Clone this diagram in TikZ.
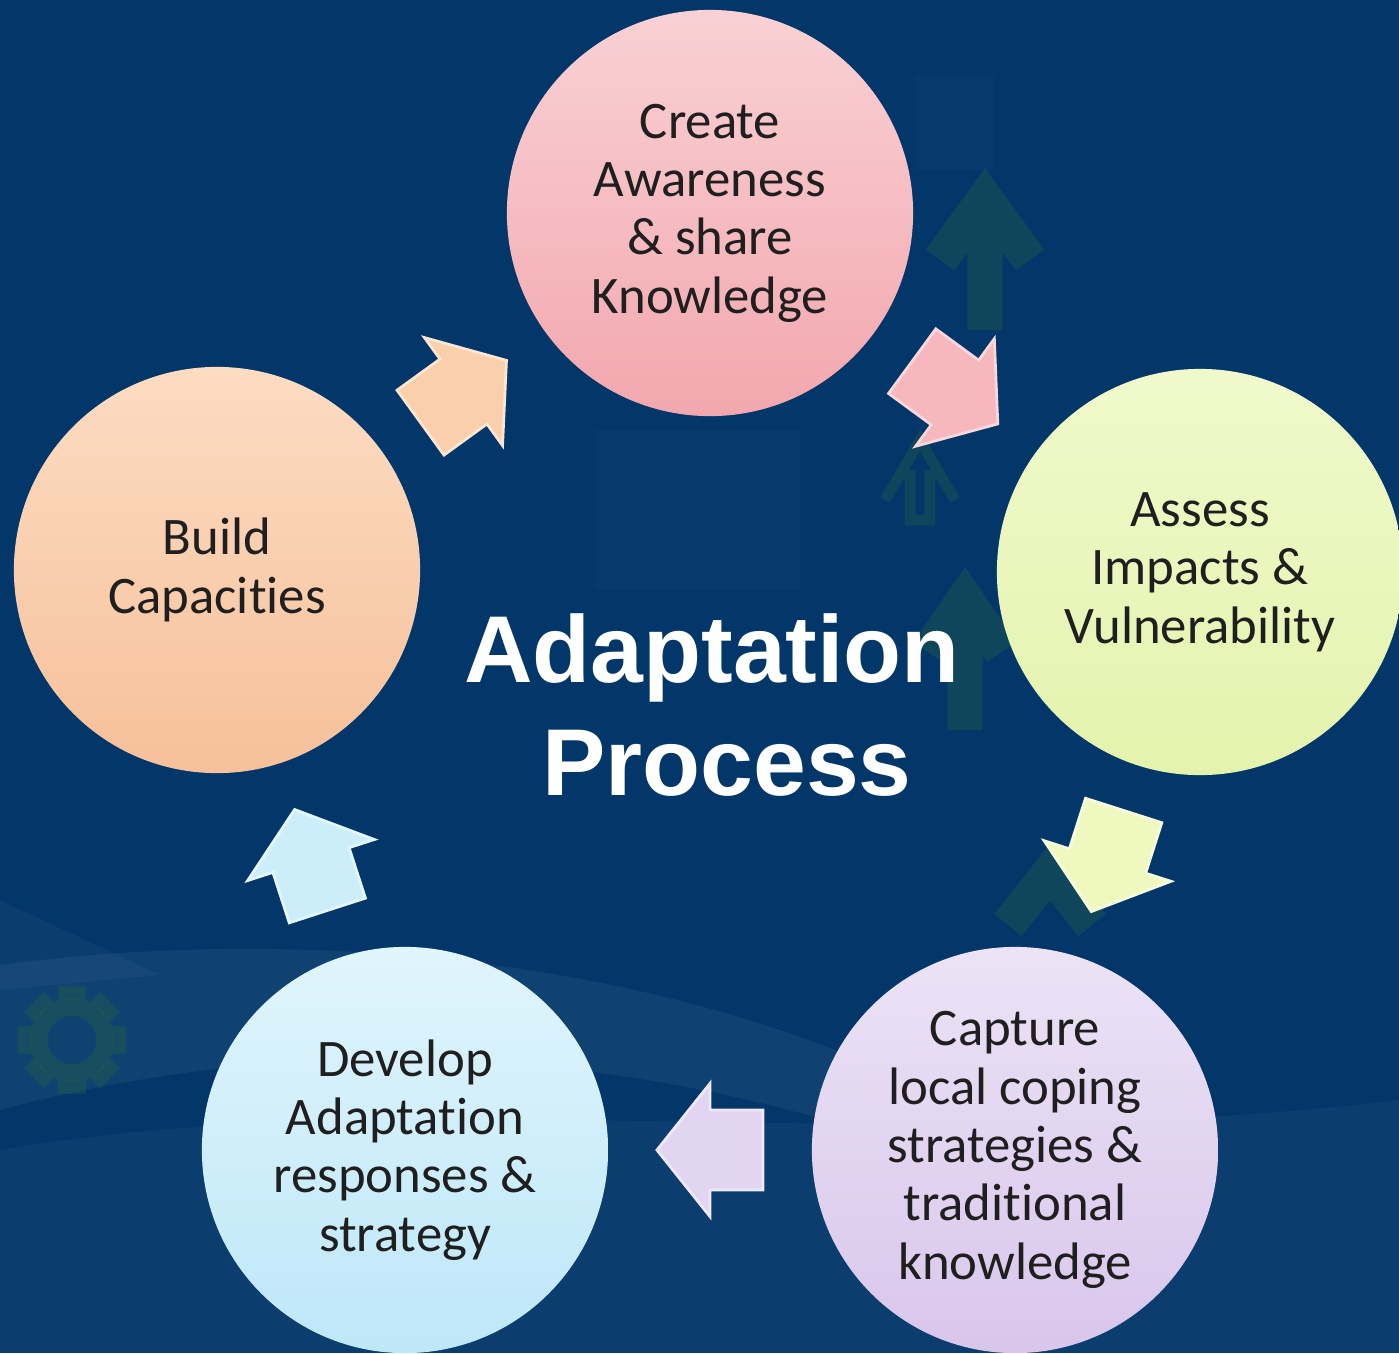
\documentclass[tikz,border=0pt]{standalone}
\usepackage{fontspec}
\setmainfont{Carlito}[Ligatures=NoCommon]
\newfontfamily\titlefont{Liberation Sans}
\usetikzlibrary{calc}

\definecolor{navy}{HTML}{03376A}
\definecolor{leaf}{HTML}{2F6A3A}
\definecolor{pinkT}{HTML}{F9D1D4}\definecolor{pinkB}{HTML}{F2A7AE}
\definecolor{limeT}{HTML}{F0F9CC}\definecolor{limeB}{HTML}{E4F3AC}
\definecolor{lilacT}{HTML}{ECE3F6}\definecolor{lilacB}{HTML}{D8C6EB}
\definecolor{skyT}{HTML}{E0F5FC}\definecolor{skyB}{HTML}{BEE7F8}
\definecolor{peachT}{HTML}{FCDCC2}\definecolor{peachB}{HTML}{F6C09A}
\definecolor{pinkF}{HTML}{F6B7BD}
\definecolor{limeF}{HTML}{EEF8BF}
\definecolor{lilacF}{HTML}{E2D5F2}
\definecolor{skyF}{HTML}{CCEEFA}
\definecolor{peachF}{HTML}{F9CFAC}

\tikzset{
  stage/.style={circle, minimum size=4.06cm, inner sep=0pt, align=center,
    font=\fontsize{15}{16.6}\selectfont, text=black!88},
  flow/.pic={
    \fill[#1, draw=white!45!#1, line width=0.8pt]
      (-0.53cm,0.40cm) -- (0,0.40cm) -- (0,0.665cm) -- (0.53cm,0)
      -- (0,-0.665cm) -- (0,-0.40cm) -- (-0.53cm,-0.40cm) -- cycle;
  },
}

% block arrow half way between two stages, pointing from #1 to #2
\newcommand{\flowarrow}[3]{%
  \path let \p1=($(#2)-(#1)$), \n1={atan2(\y1,\x1)} in
    pic[rotate=\n1] at ($(#1)!.5!(#2)$) {flow=#3};
}

\begin{document}
\begin{tikzpicture}[x=0.01cm, y=-0.01cm,
  deco/.style={draw=leaf, draw opacity=.3, line join=miter},
  title/.style={font=\titlefont\bfseries\fontsize{27}{32}\selectfont,
    text=white, align=center}
]

%--- Background ---
\useasboundingbox (0,0) rectangle (1399,1353);
\clip (0,0) rectangle (1399,1353);
\fill[navy] (0,0) rectangle (1399,1353);
\fill[white, opacity=.05] (0,965) .. controls (300,925) and (620,960) .. (860,1060)
  -- (860,1130) .. controls (600,1050) and (300,1030) .. (0,1110) -- cycle;
\fill[white, opacity=.035] (0,1150) .. controls (400,1080) and (900,1160) .. (1399,1100)
  -- (1399,1353) -- (0,1353) -- cycle;
\fill[white, opacity=.035] (0,900) -- (160,975) -- (0,990) -- cycle;
\fill[white, opacity=.02] (595,430) rectangle (800,590);
\fill[white, opacity=.02] (915,75) rectangle (995,170);

% faint green chevrons and sun
\draw[deco, line width=10pt] (940,260) -- (985,198) -- (1030,260) (985,205) -- (985,330);
\draw[deco, line width=3pt] (885,500) -- (920,440) -- (955,500)
  (910,470) -- (910,520) -- (930,520) -- (930,470);
\draw[deco, line width=10pt] (928,652) -- (965,598) -- (1002,652) (965,605) -- (965,730);
\draw[deco, line width=10pt] (1008,925) -- (1050,872) -- (1092,925);
\draw[deco, line width=5pt] (72,1040) circle[radius=0.33cm];
\foreach \a in {0,45,...,315}
  \draw[deco, line width=8pt] ($(72,1040)+(\a:0.4cm)$) -- ($(72,1040)+(\a:0.54cm)$);

%--- Stages ---
\node[stage, top color=pinkT, bottom color=pinkB] (aware) at (710,213)
  {Create\\Awareness\\\& share\\Knowledge};
\node[stage, top color=limeT, bottom color=limeB] (assess) at (1200,572)
  {Assess\\Impacts \&\\Vulnerability};
\node[stage, top color=lilacT, bottom color=lilacB] (capture) at (1015,1150)
  {Capture\\local coping\\strategies \&\\traditional\\knowledge};
\node[stage, top color=skyT, bottom color=skyB] (develop) at (405,1150)
  {Develop\\Adaptation\\responses \&\\strategy};
\node[stage, top color=peachT, bottom color=peachB] (build) at (217,570)
  {Build\\Capacities};

%--- Arrows ---
\flowarrow{build}{aware}{peachF}
\flowarrow{aware}{assess}{pinkF}
\flowarrow{assess}{capture}{limeF}
\flowarrow{capture}{develop}{lilacF}
\flowarrow{develop}{build}{skyF}

\node[title] (centre) at (712,705) {Adaptation\\\hspace*{0.3cm}Process};

\end{tikzpicture}
\end{document}
